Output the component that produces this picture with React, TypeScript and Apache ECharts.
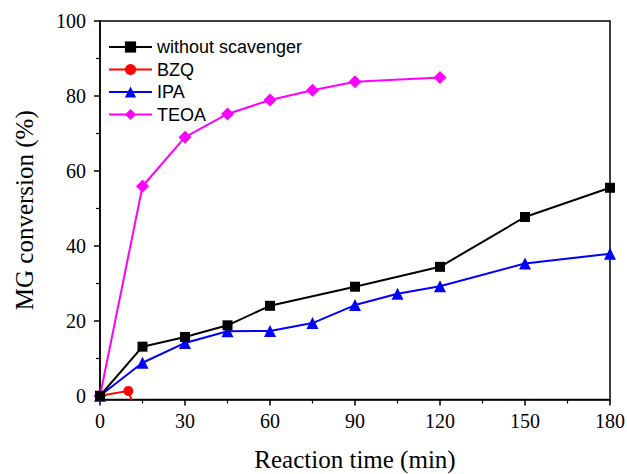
import React, { useEffect, useRef } from "react";
import * as echarts from "echarts";

const seriesNames = ["without scavenger", "BZQ", "IPA", "TEOA"];
const withoutX = [0, 15, 30, 45, 60, 90, 120, 150, 180];
const withoutY = [0, 13.1, 15.7, 18.8, 24.0, 29.1, 34.4, 47.7, 55.5];
const bzqX = [0, 10, 20];
const bzqY = [0, 1.3, -20];
const ipaX = [0, 15, 30, 45, 60, 75, 90, 105, 120, 150, 180];
const ipaY = [0, 8.8, 14.1, 17.2, 17.3, 19.4, 24.2, 27.2, 29.2, 35.3, 37.9];
const teoaX = [0, 15, 30, 45, 60, 75, 90, 120];
const teoaY = [0, 55.9, 69.0, 75.2, 78.9, 81.5, 83.8, 84.9];

const yMajorTicks = [0, 20, 40, 60, 80, 100];
const yMinorTicks = [10, 30, 50, 70, 90];

const colors = ["#000000", "#ff0000", "#0000ff", "#ff00ff"];
const symbols = ["rect", "circle", "triangle", "diamond"];
const symbolSizes = [10, 10, 12, 13];

const zip = (xs: number[], ys: number[]) => xs.map((x, i) => [x, ys[i]]);

const serif = "Liberation Serif, Times New Roman, serif";

export default function App() {
  const ref = useRef<HTMLDivElement>(null);
  useEffect(() => {
    const chart = echarts.init(ref.current!, null, { renderer: "svg" });
    const data = [zip(withoutX, withoutY), zip(bzqX, bzqY), zip(ipaX, ipaY), zip(teoaX, teoaY)];
    chart.setOption({
      animation: false,
      backgroundColor: "#ffffff",
      grid: {
        left: 100, right: 17, top: 21, bottom: 74.5,
        outerBoundsMode: "none", containLabel: false,
        show: true, borderColor: "#000", borderWidth: 1.5, backgroundColor: "transparent",
      },
      legend: {
        left: 108,
        top: 38,
        padding: 0,
        orient: "vertical",
        itemWidth: 43,
        itemHeight: 14,
        itemGap: 4.5,
        textStyle: { fontFamily: "Liberation Sans, Arial, sans-serif", fontSize: 18, color: "#000" },
        data: seriesNames,
      },
      xAxis: {
        type: "value",
        min: 0,
        max: 180,
        interval: 30,
        name: "Reaction time (min)",
        nameLocation: "middle",
        nameGap: 47,
        nameTextStyle: { fontFamily: serif, fontSize: 25, color: "#000" },
        axisLine: { onZero: false, lineStyle: { color: "#000", width: 1.5 } },
        axisTick: { show: true, inside: false, length: 6, lineStyle: { color: "#000", width: 1.5 } },
        minorTick: { show: true, splitNumber: 2, length: 4, lineStyle: { color: "#000", width: 1.2 } },
        axisLabel: { fontFamily: serif, fontSize: 20, color: "#000", margin: 11 },
        splitLine: { show: false },
      },
      yAxis: [
        {
          type: "value",
          min: -1,
          max: 100,
          name: "MG conversion (%)",
          nameLocation: "middle",
          nameGap: 63,
          nameTextStyle: { fontFamily: serif, fontSize: 25, color: "#000" },
          axisLine: { onZero: false, lineStyle: { color: "#000", width: 1.5 } },
          axisTick: { show: true, inside: false, length: 6, customValues: yMajorTicks, lineStyle: { color: "#000", width: 1.5 } },
          axisLabel: { fontFamily: serif, fontSize: 20, color: "#000", margin: 14, customValues: yMajorTicks },
          splitLine: { show: false },
        },
        {
          type: "value",
          min: -1,
          max: 100,
          position: "left",
          axisLine: { show: false },
          axisTick: { show: true, inside: false, length: 4, customValues: yMinorTicks, lineStyle: { color: "#000", width: 1.2 } },
          axisLabel: { show: false },
          splitLine: { show: false },
        },
      ],
      series: seriesNames.map((name, i) => ({
        name,
        type: "line",
        data: data[i],
        clip: true,
        symbol: symbols[i],
        symbolSize: symbolSizes[i],
        showSymbol: true,
        itemStyle: { color: colors[i] },
        lineStyle: { color: colors[i], width: 2 },
        z: 10 - i,
      })),
    });
    return () => chart.dispose();
  }, []);
  return <div ref={ref} style={{ width: 627, height: 474, position: "absolute", left: 0, top: 0 }} />;
}
